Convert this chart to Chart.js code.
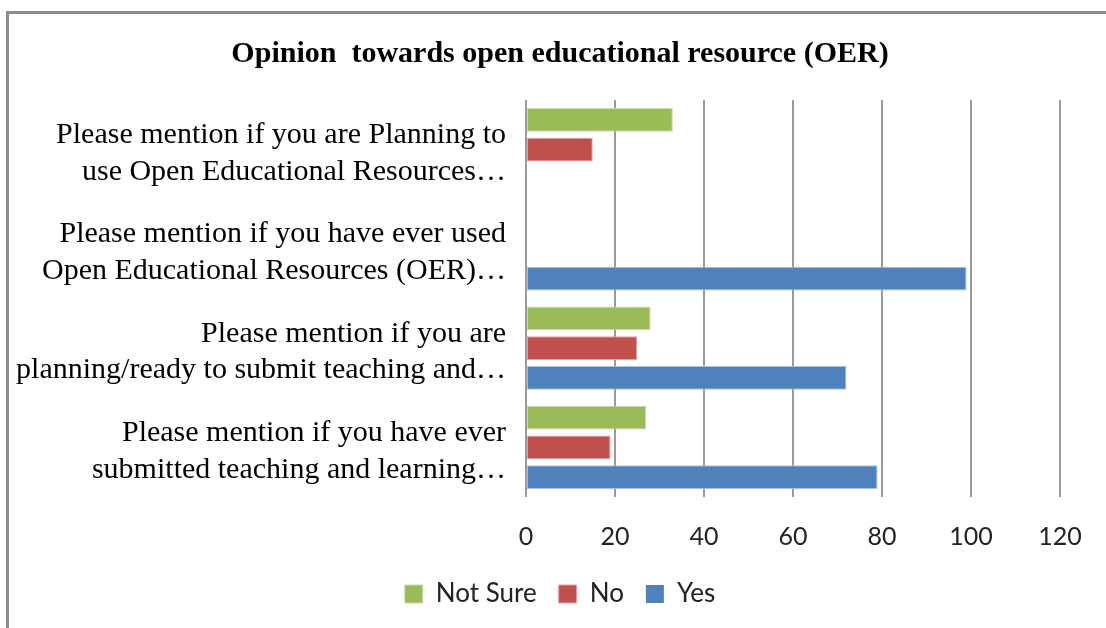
<!DOCTYPE html>
<html>
<head>
<meta charset="utf-8">
<script src="https://cdn.jsdelivr.net/npm/chart.js@4"></script>
<style>
  html, body { margin: 0; padding: 0; background: #fff; }
  #wrap { position: relative; width: 1106px; height: 628px; overflow: hidden; }
  #frame {
    position: absolute; left: 6px; top: 11px; right: -10px; bottom: -10px;
    border-left: 3px solid #8c8c8c; border-top: 3px solid #8c8c8c;
    pointer-events: none;
  }
  canvas { position: absolute; left: 0; top: 0; }
</style>
</head>
<body>
<div id="wrap">
  <canvas id="chart" width="1106" height="628"></canvas>
  <div id="frame"></div>
</div>
<script>
// ── data ─────────────────────────────────
const questions = [
  ["Please mention if you are Planning to", "use Open Educational Resources…"],
  ["Please mention if you have ever used", "Open Educational Resources (OER)…"],
  ["Please mention if you are", "planning/ready to submit teaching and…"],
  ["Please mention if you have ever", "submitted teaching and learning…"],
];
const notSure = [33, 0, 28, 27];
const no = [15, 0, 25, 19];
const yes = [0, 99, 72, 79];
const xTicks = [0, 20, 40, 60, 80, 100, 120];

const SERIF = "'Liberation Serif', 'Times New Roman', serif";
const SANS = "Lato, 'Open Sans', sans-serif";

// zero answers get no bar at all (no stray border line)
const edge = (ctx) => (ctx.raw ? 1 : 0);

function series(label, data, fill, line) {
  return {
    label,
    data,
    backgroundColor: fill,
    borderColor: line,
    borderWidth: edge,
    borderSkipped: false,
    categoryPercentage: 0.9,
    barPercentage: 0.8,
  };
}

new Chart(document.getElementById("chart").getContext("2d"), {
  type: "bar",
  data: {
    labels: questions,
    datasets: [
      series("Not Sure", notSure, "#9BBB59", "#c9dca8"),
      series("No", no, "#C0504D", "#e2a3a1"),
      series("Yes", yes, "#4F81BD", "#a9c1df"),
    ],
  },
  options: {
    indexAxis: "y",
    responsive: false,
    animation: false,
    layout: { padding: { left: 14, right: 0, top: 0, bottom: 11 } },
    plugins: {
      title: {
        display: true,
        text: "Opinion  towards open educational resource (OER)",
        color: "#000",
        font: { family: SERIF, size: 30, weight: "bold", lineHeight: 1.2 },
        padding: { top: 36, bottom: 28 },
      },
      legend: {
        position: "bottom",
        labels: {
          color: "#222",
          font: { family: SANS, size: 26 },
          boxWidth: 18,
          boxHeight: 18,
          padding: 22,
        },
      },
      tooltip: { enabled: false },
    },
    scales: {
      x: {
        min: 0,
        max: 120,
        afterBuildTicks: (s) => {
          s.ticks = xTicks.map((v) => ({ value: v }));
        },
        afterFit: (s) => {
          s.height = 62;
          s.paddingRight = 46;
          s.paddingLeft = 0;
        },
        grid: { color: "#9a9a9a", lineWidth: 2, drawTicks: false },
        border: { display: false },
        ticks: {
          color: "#222",
          font: { family: SANS, size: 25 },
          padding: 25,
        },
      },
      y: {
        afterFit: (s) => {
          s.width = 512;
          s.paddingTop = 0;
          s.paddingBottom = 0;
        },
        grid: { display: false },
        border: { display: false },
        ticks: {
          color: "#000",
          font: { family: SERIF, size: 30, lineHeight: 1.22 },
          padding: 12,
          labelOffset: 4,
          autoSkip: false,
        },
      },
    },
  },
});
</script>
</body>
</html>
